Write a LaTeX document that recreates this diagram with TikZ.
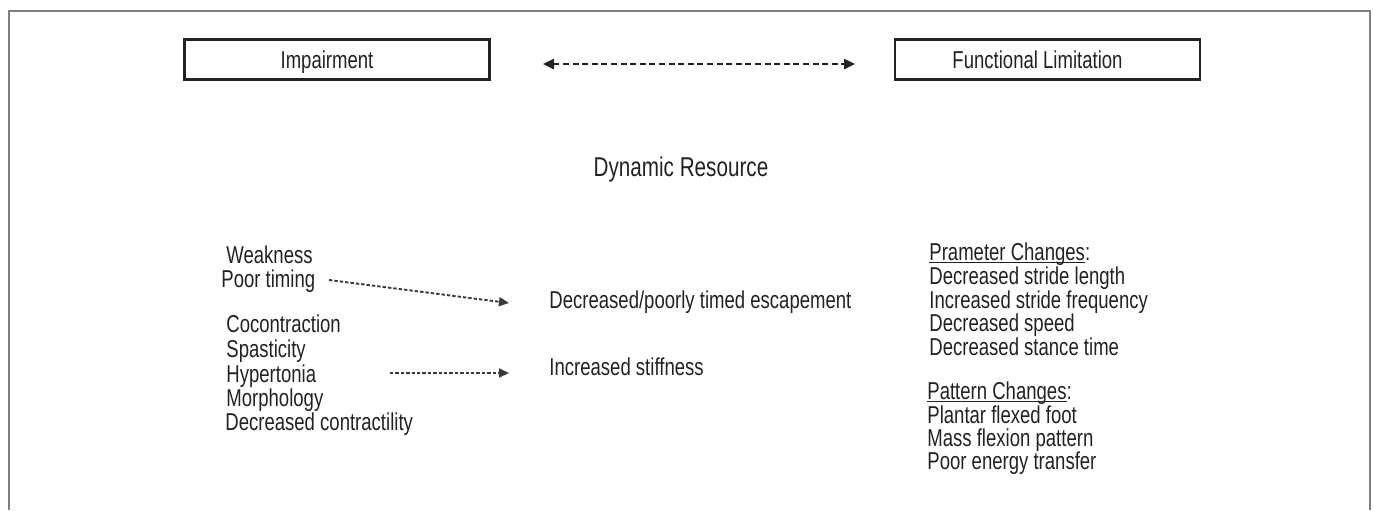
\documentclass[tikz,border=0pt]{standalone}
\usepackage{fontspec}
\setmainfont{Liberation Sans}[FakeStretch=0.76]
\usepackage{xcolor}
\usepackage{tikz}
\usetikzlibrary{arrows.meta,calc}
\definecolor{framegray}{HTML}{7F7F7F}
\definecolor{inkgray}{HTML}{222222}
\definecolor{dashgray}{HTML}{3A3A3A}
% underline that sits close to the baseline
\newcommand{\headline}[1]{\setbox0\hbox{#1}\rlap{\rule[-1.6pt]{\wd0}{0.5pt}}\box0}

\begin{document}
\begin{tikzpicture}[x=0.5pt,y=-0.5pt,text=inkgray]
  \tikzstyle{stage} = [draw=inkgray,line width=1.3pt,minimum width=152.5pt,minimum height=20pt,inner sep=0pt]
  \tikzstyle{stagetext} = [xshift=-5pt,font=\fontsize{12.2}{14}\selectfont,inner sep=0pt,text depth=0pt]
  \tikzstyle{item} = [anchor=base west,inner sep=0pt,font=\fontsize{12.2}{14}\selectfont]
  \tikzstyle{link} = [dashgray,line width=0.95pt,dash pattern=on 1.7pt off 1pt,-{Triangle[length=5pt,width=4.5pt]}]
  \tikzstyle{both} = [inkgray,line width=1.2pt,dash pattern=on 3pt off 1.8pt,{Triangle[length=5.5pt,width=5pt]}-{Triangle[length=5.5pt,width=5pt]}]
  %
  \useasboundingbox (0,0) rectangle (1373,510);
  % Frame, open at the bottom.
  \draw[framegray,line width=1pt] (9,510) -- (9,11) -- (1370,11) -- (1370,510);
  % Top row.
  \node[stage,label={[stagetext]center:Impairment}] (imp) at (337,59.5) {};
  \node[stage,label={[stagetext]center:Functional Limitation}] (func) at (1047.5,59.5) {};
  \coordinate (impend) at (543,64);
  \coordinate (funcend) at (855,64);
  \draw[both] (impend) -- (funcend);
  % Heading.
  \node[font=\fontsize{13.6}{16}\selectfont,inner sep=0pt] (dyn) at (681,169) {Dynamic Resource};
  % Left column.
  \node[item] (weak) at (226,263) {Weakness};
  \node[item] (timing) at (221,287) {Poor timing};
  \node[item] (cocon) at (226,332) {Cocontraction};
  \node[item] (spast) at (226,357) {Spasticity};
  \node[item] (hyper) at (226,382) {Hypertonia};
  \node[item] (morph) at (226,406) {Morphology};
  \node[item] (contr) at (225,430) {Decreased contractility};
  % Middle column.
  \node[item] (escap) at (549,308) {Decreased/poorly timed escapement};
  \node[item] (stiff) at (549,375) {Increased stiffness};
  \coordinate (timingend) at (329,280);
  \coordinate (escapend) at (509,303);
  \coordinate (hyperend) at (390,373);
  \coordinate (stiffend) at (509,373);
  \draw[link] (timingend) -- (escapend);
  \draw[link] (hyperend) -- (stiffend);
  % Right column.
  \node[item] (param) at (929,260) {\headline{Prameter Changes}:};
  \node[item] (stride) at (929,284.5) {Decreased stride length};
  \node[item] (freq) at (929,308) {Increased stride frequency};
  \node[item] (speed) at (929,331.5) {Decreased speed};
  \node[item] (stance) at (929,355) {Decreased stance time};
  \node[item] (pattern) at (927,399) {\headline{Pattern Changes}:};
  \node[item] (plantar) at (927,423) {Plantar flexed foot};
  \node[item] (flexion) at (927,446) {Mass flexion pattern};
  \node[item] (energy) at (927,469.5) {Poor energy transfer};
\end{tikzpicture}
\end{document}
